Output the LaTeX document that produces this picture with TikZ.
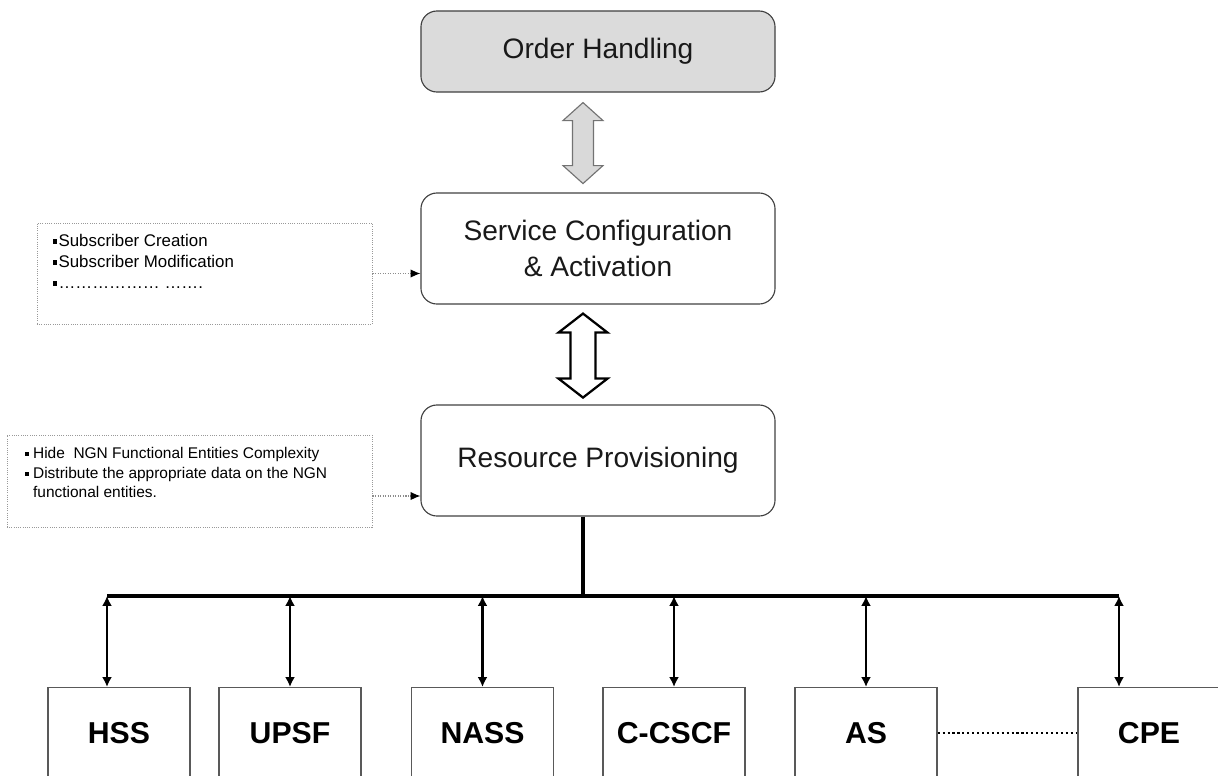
\documentclass[tikz,border=0pt]{standalone}
\usepackage{fontspec}
\setmainfont{Liberation Sans}
\usetikzlibrary{arrows.meta}
\usetikzlibrary{calc}

\newcommand{\sqbul}{\rule[0.28ex]{0.26em}{0.26em}}

\begin{document}
\begin{tikzpicture}[x=0.025cm,y=-0.025cm,
    stage/.style={draw=black!75,line width=0.8pt,rounded corners=0.4cm,
      minimum width=8.85cm,minimum height=2.775cm,align=center,
      text=black!90,font=\fontsize{20}{25}\selectfont},
    entity/.style={draw=black!65,line width=1pt,anchor=north,
      minimum width=3.55cm,minimum height=2.275cm,
      font=\fontsize{21.5}{26}\selectfont\bfseries},
    note/.style={draw=gray!80,densely dotted,line width=0.6pt},
    notetext/.style={anchor=north west,align=left,inner sep=0pt},
    bus/.style={line width=3.2pt},
    tap/.style={line width=1.8pt,
      {Latex[length=7pt,width=7pt]}-{Latex[length=7pt,width=7pt]}},
    hint/.style={densely dotted,draw=gray!90,line width=0.8pt,
      -{Latex[length=7pt,width=6pt,black]}}]

  \clip (0,0) rectangle (1218,776);

  % the three management layers
  \node[stage,fill=gray!28,minimum height=2.025cm] (oh) at (598,51.5) {Order Handling};
  \node[stage] (sca) at (598,248.5) {Service Configuration\\ \& Activation};
  \node[stage] (rp) at (598,460.5) {Resource Provisioning};
  \coordinate (axis) at (583,0);

  % block arrows between the layers
  \draw[fill=gray!30,draw=black!55,line width=0.8pt,line join=miter]
    ($(axis |- oh.south)+(0,10)$) -- ++(20,18) -- ++(-9.5,0) -- ++(0,45)
    -- ++(9.5,0) -- ++(-20,18) -- ++(-20,-18) -- ++(9.5,0) -- ++(0,-45)
    -- ++(-9.5,0) -- cycle;
  \draw[fill=white,line width=1.6pt,line join=miter]
    ($(axis |- sca.south)+(0,9)$) -- ++(24.5,19) -- ++(-12,0) -- ++(0,46)
    -- ++(12,0) -- ++(-24.5,19) -- ++(-24.5,-19) -- ++(12,0) -- ++(0,-46)
    -- ++(-12,0) -- cycle;

  % side notes
  \node[note,minimum width=8.375cm,minimum height=2.525cm] (note1) at (204.5,273.5) {};
  \node[notetext,font=\fontsize{12}{15}\selectfont] (note1txt)
    at ($(note1.north west)+(16,11)$)
    {\sqbul\kern1pt Subscriber Creation\\
     \sqbul\kern1pt Subscriber Modification\\
     \sqbul\kern1pt ……………… …….};
  \draw[hint] (note1.east) -- (note1.east -| sca.west);

  \node[note,minimum width=9.125cm,minimum height=2.3cm] (note2) at (189.5,481) {};
  \node[notetext,font=\fontsize{11}{14.2}\selectfont] (note2txt)
    at ($(note2.north west)+(18,12)$)
    {\sqbul\ Hide\ \ NGN Functional Entities Complexity\\
     \sqbul\ Distribute the appropriate data on the NGN\\
     \phantom{\sqbul\ }functional entities.};
  \coordinate (n2out) at ($(note2.east)+(0,15)$);
  \draw[hint] (n2out) -- (n2out -| rp.west);

  % NGN functional entities
  \node[entity] (hss) at (119,687) {HSS};
  \node[entity] (upsf) at (290,687) {UPSF};
  \node[entity] (nass) at (482.5,687) {NASS};
  \node[entity] (ccscf) at (674,687) {C-CSCF};
  \node[entity] (as) at (866,687) {AS};
  \node[entity] (cpe) at (1149,687) {CPE};

  % provisioning bus
  \coordinate (busL) at (107,596);
  \coordinate (busR) at (1119,596);
  \draw[bus] (axis |- rp.south) -- (axis |- busL);
  \draw[bus] (busL) -- (busR);
  \draw[tap] (busL) -- (busL |- hss.north);
  \foreach \n in {upsf,nass,ccscf,as}
    \draw[tap] (\n.north |- busL) -- (\n.north);
  \draw[tap] (busR) -- (busR |- cpe.north);
  \draw[dotted,line width=1.5pt] (as.east) -- (cpe.west);
\end{tikzpicture}
\end{document}
